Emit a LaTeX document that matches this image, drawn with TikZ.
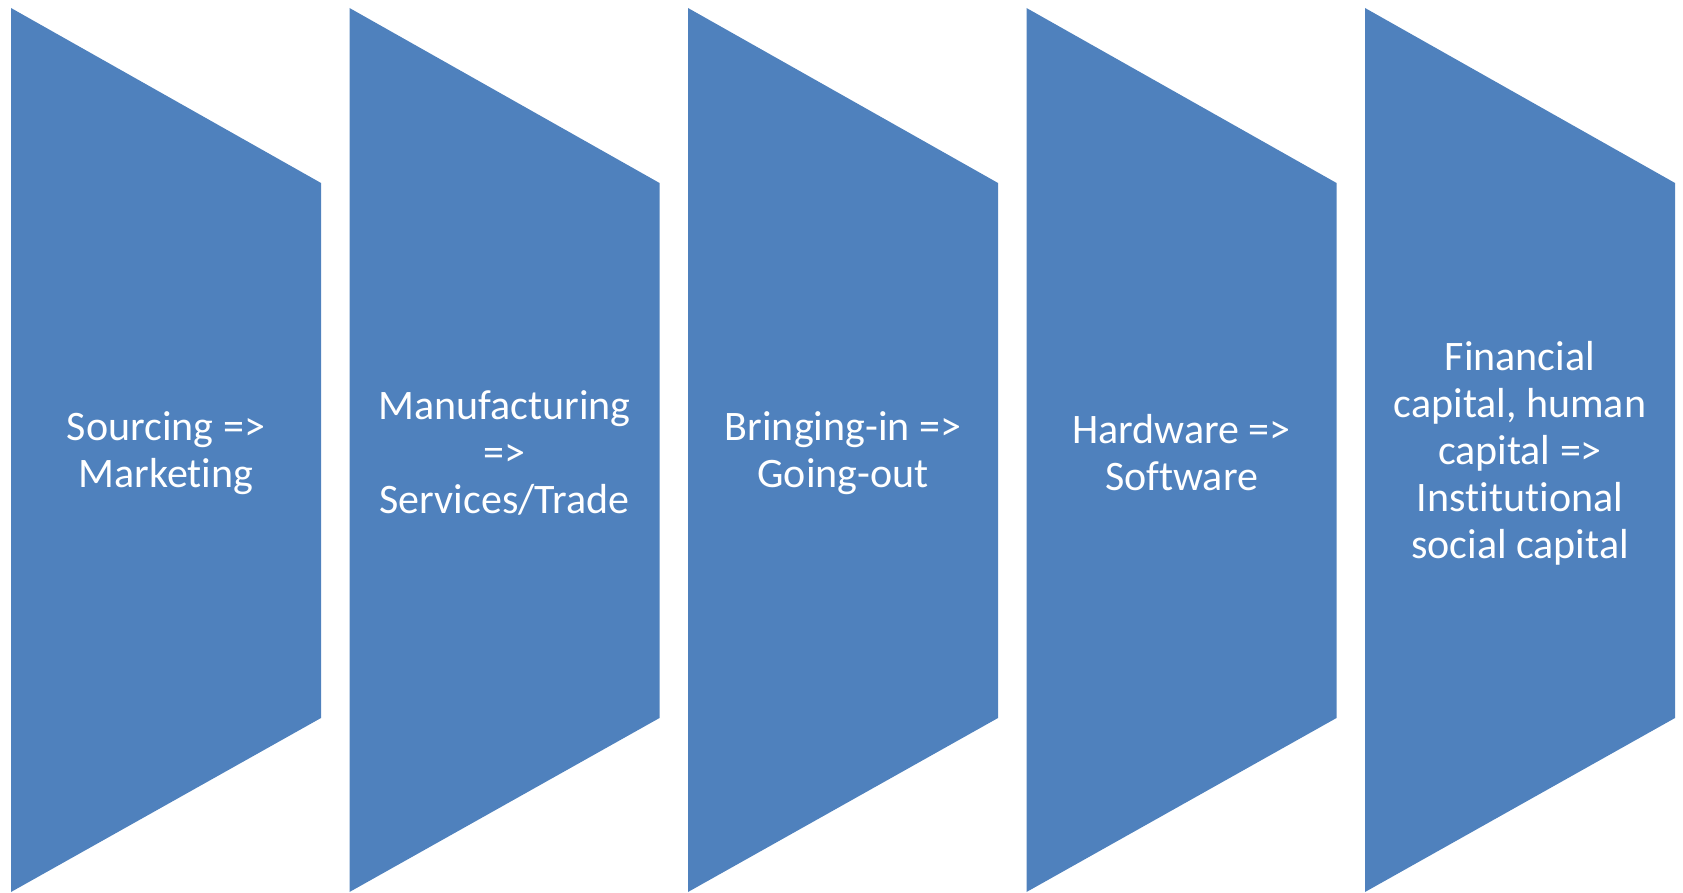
\documentclass[tikz,border=0pt]{standalone}
\usepackage{fontspec}
\setmainfont{Carlito}[Ligatures={NoCommon}]
\begin{document}
\begin{tikzpicture}[x=1pt,y=1pt,
  chev/.style={fill={rgb,255:red,79;green,129;blue,189}, draw=none},
  lbl/.style={text=white, align=center, font=\fontsize{42}{47}\selectfont, inner sep=0pt}]
\useasboundingbox (0,0) rectangle (1683,892);
\foreach \i in {0,...,4}{
  \pgfmathsetmacro{\xl}{11+338.5*\i}
  \pgfmathsetmacro{\xr}{\xl+310}
  \fill[chev] (\xl,884) -- (\xr,709) -- (\xr,174) -- (\xl,0) -- cycle;
}
\node[lbl] (t1) at (166,439) {Sourcing =>\\Marketing};
\node[lbl] (t2) at (504.5,439) {Manufacturing\\=>\\Services/Trade};
\node[lbl] (t3) at (843,439) {Bringing-in =>\\Going-out};
\node[lbl] (t4) at (1181.5,439) {Hardware =>\\Software};
\node[lbl] (t5) at (1520,439) {Financial\\capital, human\\capital =>\\Institutional\\social capital};
\end{tikzpicture}
\end{document}
